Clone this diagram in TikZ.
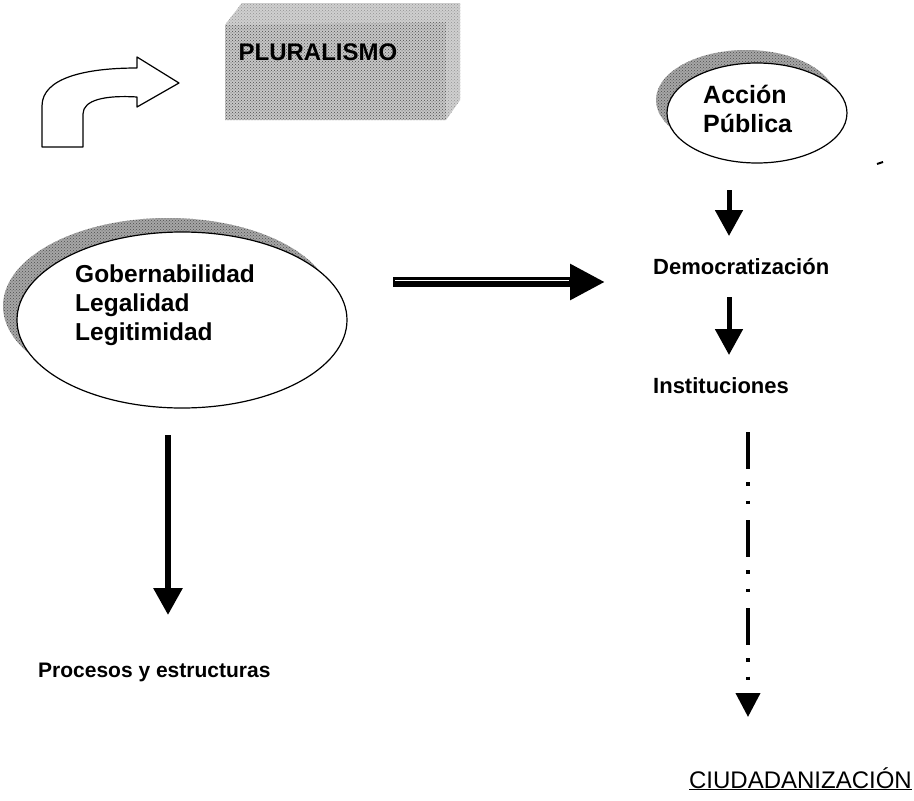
\documentclass[tikz,border=0pt]{standalone}
\usepackage{fontspec}
\setmainfont{Liberation Sans}
\usetikzlibrary{arrows.meta,shapes.geometric,calc,patterns}
\begin{document}
\begin{tikzpicture}[x=1pt,y=-1pt,
  lbl/.style={font=\fontsize{22}{26}\selectfont\bfseries, inner sep=0pt, anchor=base west},
  bigtxt/.style={font=\fontsize{24.5}{29}\selectfont\bfseries, align=left, inner sep=0pt, anchor=north west},
  shadowfill/.style={fill=gray!70},
  halftone/.style={pattern=crosshatch dots, pattern color=black!70},
  ovalbox/.style={ellipse, draw=black, line width=1.2pt, fill=white, inner sep=0pt},
  solidarrow/.style={line width=5pt, -{Triangle[length=26pt,width=27pt]}},
  dashdotarrow/.style={line width=4pt, dash pattern=on 37pt off 13pt on 3.5pt off 15pt on 3.5pt off 16pt, -{Triangle[length=24pt,width=24pt]}}
]
\useasboundingbox (0,0) rectangle (914,801);

% bent arrow
\draw[line width=1.2pt, fill=white, line join=round]
  (42,147) -- (42,106) .. controls (42,78) and (85,68) .. (137,68) -- (137,57) -- (179,83)
  -- (137,107) -- (137,97) .. controls (105,95) and (83,100) .. (83,114) -- (83,147) -- cycle;

% PLURALISMO block (halftone grey)
\fill[gray!45] (225,25) -- (242,3) -- (460,3) -- (460,100) -- (446,120) -- (225,120) -- cycle;
\fill[halftone] (225,25) -- (242,3) -- (460,3) -- (460,100) -- (446,120) -- (225,120) -- cycle;
\fill[gray!30, opacity=0.5] (225,25) -- (242,3) -- (460,3) -- (446,22) -- cycle;
\fill[gray!30, opacity=0.5] (446,22) -- (460,3) -- (460,100) -- (446,120) -- cycle;
\node[font=\fontsize{24}{28}\selectfont\bfseries, inner sep=0pt, anchor=base] (plural) at (318,60) {PLURALISMO};

% Accion Publica ellipse
\fill[shadowfill] (746,100) ellipse [x radius=90, y radius=50];
\fill[halftone] (746,100) ellipse [x radius=90, y radius=50];
\node[ovalbox, minimum width=180pt, minimum height=100pt] (accE) at (757,113) {};
\node[bigtxt, font=\fontsize{25}{29}\selectfont\bfseries] (acc) at (703,85) {Acción\\Pública};
\draw[line width=2pt] (877,164) -- (883,162);

% Gobernabilidad ellipse
\fill[shadowfill] (168,306) ellipse [x radius=165, y radius=88];
\fill[halftone] (168,306) ellipse [x radius=165, y radius=88];
\node[ovalbox, minimum width=330pt, minimum height=176pt] (gobE) at (182,320) {};
\node[bigtxt] (gob) at (75,265) {Gobernabilidad\\Legalidad\\Legitimidad};

% labels
\node[lbl] (dem) at (653,274) {Democratización};
\node[lbl] (inst) at (653,393) {Instituciones};
\node[lbl, font=\fontsize{21}{25}\selectfont\bfseries] (proc) at (38,677) {Procesos y estructuras};
\node[font=\fontsize{24}{28}\selectfont, inner sep=0pt, anchor=base east] (ciud) at (912,788) {\underline{CIUDADANIZACIÓN}};

% connector end points
\coordinate (a1s) at (729,190);
\coordinate (a1e) at (729,236);
\coordinate (a2s) at (729,297);
\coordinate (a2e) at (729,355);
\coordinate (a3s) at (748,432);
\coordinate (a3e) at (748,717);
\coordinate (a4s) at (168,435);
\coordinate (a4e) at (168,615);
\coordinate (a5s) at (393,282);
\coordinate (a5e) at (605,282);

% connectors
\draw[solidarrow] (a1s) -- (a1e);
\draw[solidarrow] (a2s) -- (a2e);
\draw[dashdotarrow] (a3s) -- (a3e);
\draw[line width=6pt, -{Triangle[length=27pt,width=28pt]}] (a4s) -- (a4e);
\draw[line width=10pt, -{Triangle[length=35pt,width=34pt]}] (a5s) -- (a5e);
\draw[white, line width=1.6pt] ($(a5s)+(2,-1.5)$) -- ($(a5e)+(-36,-1.5)$);
\end{tikzpicture}
\end{document}
